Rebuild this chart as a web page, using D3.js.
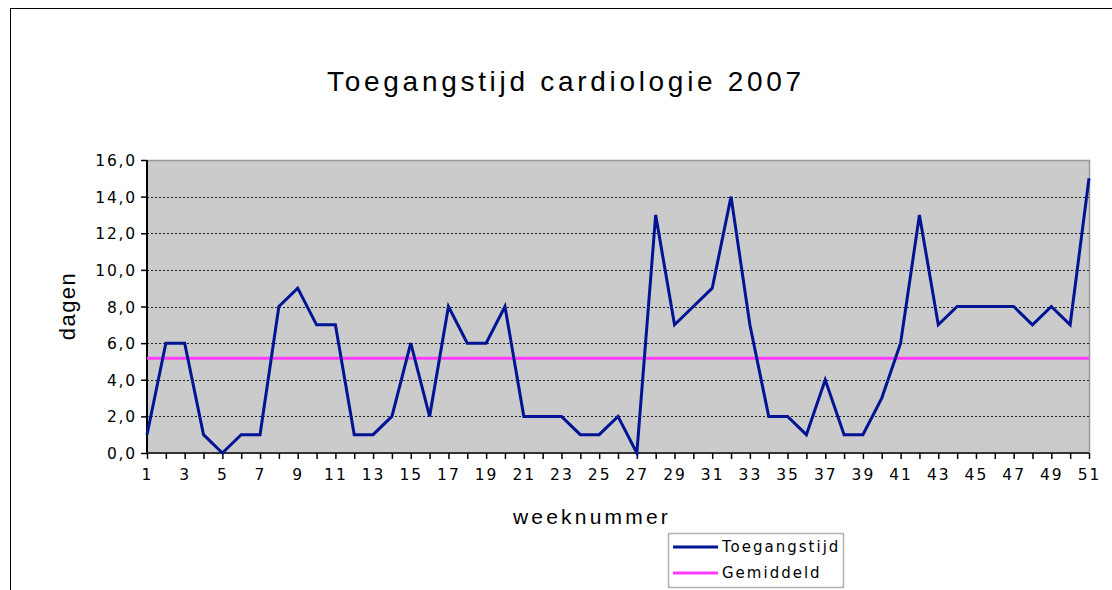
<!DOCTYPE html>
<html><head><meta charset="utf-8">
<script src="https://cdn.jsdelivr.net/npm/d3@7"></script>
<style>
html,body{margin:0;padding:0;background:#fff;}
svg{display:block;}
</style></head>
<body>
<svg id="c" width="1112" height="590"></svg>
<script>
const weeks = d3.range(1, 52);
const toegangstijd = [1,6,6,1,0,1,1,8,9,7,7,1,1,2,6,2,8,6,6,8,2,2,2,1,1,2,0,13,7,8,9,14,7,2,2,1,4,1,1,3,6,13,7,8,8,8,8,7,8,7,15];
const gemiddeld = [5.18];
const yTicks = [0,2,4,6,8,10,12,14,16];
const xLabels = weeks.filter(w => w % 2 === 1);
const title = "Toegangstijd cardiologie 2007";
const seriesNames = ["Toegangstijd", "Gemiddeld"];
const colors = ["#001494", "#ff3cff"];

const svg = d3.select("#c");
// outer chart frame
svg.append("rect").attr("x",10.5).attr("y",8.5).attr("width",1200).attr("height",700)
  .attr("fill","#fff").attr("stroke","#000").attr("stroke-width",1);

const L = 147, R = 1089, T = 160, B = 453;
const x = d3.scaleLinear().domain([1, 51]).range([L, R]);
const y = d3.scaleLinear().domain([0, 16]).range([B, T]);

svg.append("rect").attr("x",L).attr("y",T).attr("width",R-L).attr("height",B-T).attr("fill","#cbcbcb");
// top & right border
svg.append("path").attr("d",`M${L},${T+0.5}H${R+0.5}V${B}`).attr("fill","none").attr("stroke","#999").attr("stroke-width",1.5);

// gridlines
svg.append("g").selectAll("line").data(yTicks.filter(v => v > 0 && v < 16)).join("line")
  .attr("x1",L).attr("x2",R).attr("y1",d=>Math.round(y(d))+0.5).attr("y2",d=>Math.round(y(d))+0.5)
  .attr("stroke","#222").attr("stroke-width",1).attr("stroke-dasharray","2,2");

// y axis
const yAxis = d3.axisLeft(y).tickValues(yTicks).tickSize(6).tickFormat(d => d3.format(".1f")(d).replace(".", ","));
const gy = svg.append("g").attr("transform",`translate(${L},0)`).call(yAxis);
gy.select(".domain").attr("stroke","#000").attr("stroke-width",2).attr("d",`M0,${T}V${B}`);
gy.selectAll(".tick line").attr("stroke","#000").attr("stroke-width",1.5);
gy.selectAll("text").attr("font-family","DejaVu Sans").attr("font-size",15.5).attr("fill","#000")
  .attr("letter-spacing","1.8px").attr("x",-10).attr("dy","0.36em");

// x axis
const xAxis = d3.axisBottom(x).tickValues(weeks).tickSize(6).tickFormat(d => xLabels.includes(d) ? d : "");
const gx = svg.append("g").attr("transform",`translate(0,${B})`).call(xAxis);
gx.select(".domain").attr("stroke","#333").attr("stroke-width",2).attr("d",`M${L},0H${R}`);
gx.selectAll(".tick line").attr("stroke","#000").attr("stroke-width",1.5);
gx.selectAll("text").attr("font-family","DejaVu Sans").attr("font-size",15.5).attr("fill","#000")
  .attr("letter-spacing","2px").attr("y",16).attr("dy","0.71em");

// series
const line = d3.line().x((d,i)=>x(weeks[i])).y(d=>y(d));
svg.append("path").datum(weeks.map(()=>gemiddeld[0])).attr("d",line).attr("fill","none")
  .attr("stroke",colors[1]).attr("stroke-width",3);
svg.append("path").datum(toegangstijd).attr("d",line).attr("fill","none")
  .attr("stroke",colors[0]).attr("stroke-width",3).attr("stroke-linejoin","miter");

// titles
svg.append("text").attr("x",566).attr("y",91).attr("text-anchor","middle")
  .attr("font-family","Liberation Sans").attr("font-size",28).attr("letter-spacing","3.7px").text(title);
svg.append("text").attr("x",592).attr("y",524).attr("text-anchor","middle")
  .attr("font-family","Liberation Sans").attr("font-size",21).attr("letter-spacing","3.2px").text("weeknummer");
svg.append("text").attr("transform","translate(75,306) rotate(-90)").attr("text-anchor","middle")
  .attr("font-family","Liberation Sans").attr("font-size",22).attr("letter-spacing","1.5px").text("dagen");

// legend
const lg = svg.append("g").attr("transform","translate(668,533)");
lg.append("rect").attr("x",0.5).attr("y",0.5).attr("width",175).attr("height",54).attr("fill","#fff")
  .attr("stroke","#666").attr("stroke-width",1.5).attr("stroke-dasharray","1,1");
seriesNames.forEach((n,i)=>{
  const yy = 14 + i*26;
  lg.append("line").attr("x1",5).attr("x2",50).attr("y1",yy).attr("y2",yy).attr("stroke",colors[i]).attr("stroke-width",3);
  lg.append("text").attr("x",54).attr("y",yy).attr("dy","0.36em").attr("font-family","DejaVu Sans")
    .attr("font-size",15).attr("letter-spacing","2px").text(n);
});
</script>
</body></html>
